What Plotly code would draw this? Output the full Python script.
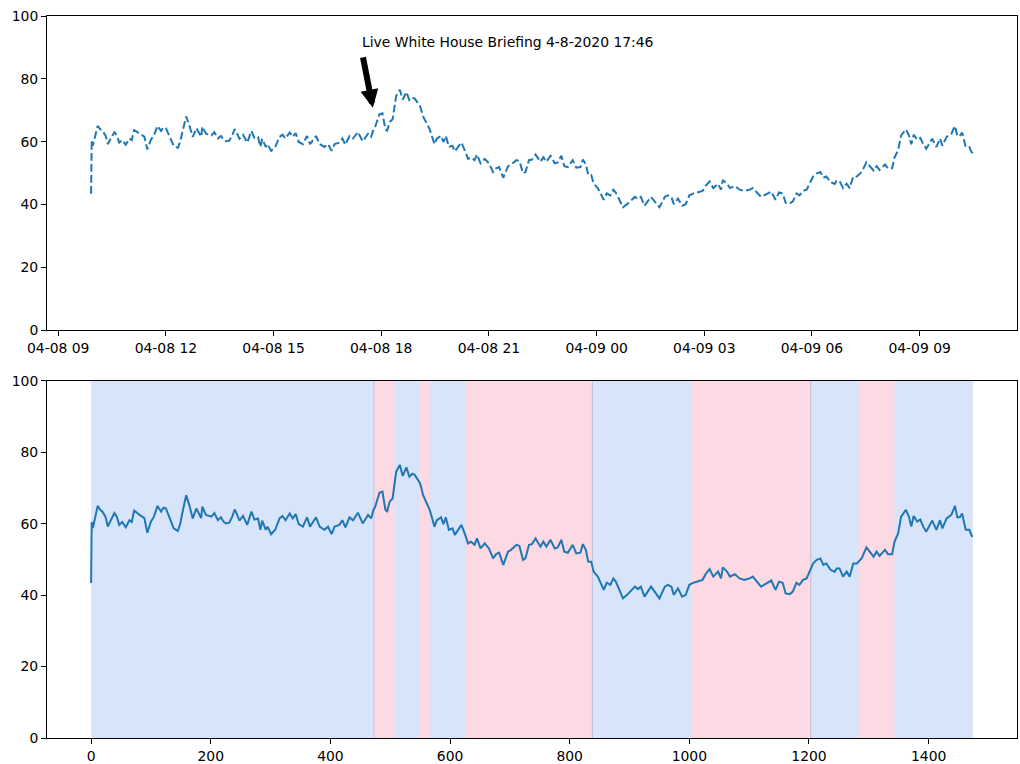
import pandas as pd
import plotly.graph_objects as go

# ---- data (minute index after start, value) ----
start_time = "2020-04-08 09:55"
idx = [0, 1, 3, 5, 8, 11, 15, 19, 24, 28, 33, 39, 43, 47, 52, 58, 64, 68, 72, 77, 81, 89, 94, 100, 105, 111, 117, 121, 125, 130, 138, 145, 149, 153, 159, 164, 170, 176, 184, 186, 192, 201, 206, 212, 217, 222, 226, 231, 236, 240, 242, 248, 254, 261, 268, 273, 279, 283, 286, 292, 295, 301, 308, 315, 320, 325, 332, 337, 342, 347, 354, 361, 366, 371, 376, 382, 390, 396, 402, 407, 415, 420, 425, 432, 438, 446, 454, 463, 468, 472, 475, 482, 487, 492, 495, 499, 504, 510, 516, 521, 527, 532, 537, 541, 546, 550, 555, 560, 566, 571, 574, 578, 585, 589, 593, 598, 604, 608, 613, 619, 626, 630, 635, 641, 645, 651, 658, 665, 672, 677, 682, 689, 697, 702, 711, 716, 722, 726, 732, 737, 743, 751, 756, 761, 768, 775, 780, 786, 791, 797, 805, 811, 818, 822, 827, 831, 836, 840, 847, 853, 857, 862, 868, 873, 877, 882, 889, 896, 903, 909, 914, 919, 925, 931, 936, 944, 950, 959, 964, 970, 974, 981, 988, 994, 1000, 1007, 1014, 1022, 1028, 1034, 1040, 1048, 1053, 1056, 1063, 1068, 1076, 1084, 1092, 1101, 1106, 1113, 1120, 1129, 1137, 1144, 1150, 1156, 1161, 1168, 1173, 1179, 1184, 1190, 1196, 1201, 1207, 1213, 1219, 1224, 1229, 1236, 1243, 1246, 1251, 1257, 1263, 1268, 1274, 1280, 1288, 1296, 1302, 1308, 1313, 1318, 1327, 1332, 1339, 1343, 1349, 1354, 1362, 1367, 1371, 1375, 1381, 1386, 1391, 1396, 1406, 1413, 1419, 1423, 1430, 1438, 1444, 1448, 1452, 1456, 1462, 1468, 1472, 1474]
values = [43.4, 60.5, 58.8, 60.5, 62, 65, 64, 63.4, 62, 59.2, 61, 63, 62, 59.7, 60.5, 59, 61, 60.5, 63.7, 63, 62.5, 61.6, 57.5, 60.6, 62, 65, 63.4, 64.5, 64.3, 62.2, 58.7, 58, 60, 63.4, 68, 65.3, 61.5, 64.3, 61.6, 64.8, 62.5, 62, 63, 61, 61.8, 60.5, 60.1, 60.3, 62, 64, 63.4, 60.9, 62.2, 59.7, 63.4, 61.2, 61.5, 58.3, 60.9, 58.3, 59.2, 57.1, 58.4, 61.5, 62.2, 61, 62.9, 61.5, 62.7, 59.9, 59.2, 61.8, 59.2, 60.5, 61.8, 59.2, 58.3, 59.2, 57.1, 59.2, 59.7, 61, 59, 61.8, 61, 63.1, 60.1, 62.5, 61.5, 63.9, 64.8, 68.7, 69, 63.9, 63.5, 66.2, 67.1, 74.6, 76.5, 73.4, 75.8, 73.2, 74, 73.7, 72.3, 71.3, 68, 66.2, 63.9, 61, 59.2, 61, 61.8, 59.9, 61.8, 58.3, 58.7, 56.9, 58.3, 59.7, 56.6, 54.5, 55, 54.1, 55.9, 53.1, 54.5, 53.1, 50.3, 51.5, 51.9, 48.5, 52.2, 52.7, 54.1, 53.8, 49.9, 50.3, 54.1, 54.3, 55.9, 53.6, 55, 53.6, 55.5, 53.1, 53.4, 55.5, 52.2, 51.9, 54.1, 51.7, 51.9, 54.3, 52.7, 49.4, 49.4, 46.6, 45.2, 42.9, 41.5, 43.5, 42.9, 44.7, 43.8, 41.9, 39.1, 40.1, 41.5, 42.4, 41.7, 42.4, 39.6, 41, 42.4, 40.5, 39.1, 42.4, 42.9, 42.4, 40.1, 41.9, 39.6, 40.1, 42.9, 43.5, 43.8, 44.3, 46.1, 47.3, 45.2, 46.6, 44.7, 47.8, 46.6, 45.2, 45.9, 44.7, 44.3, 44.7, 45.2, 43.8, 42.4, 43.3, 44.1, 41.5, 43.8, 43.5, 40.5, 40.3, 41, 43.5, 42.9, 44.3, 44.7, 46.6, 48.9, 49.9, 50.3, 48.5, 48.9, 47.1, 46.5, 47.5, 47.5, 45.2, 46.6, 45.2, 48.9, 48.9, 50.3, 53.4, 52.2, 50.8, 52.2, 51, 52.7, 51.5, 51.5, 55, 57.3, 62, 63.9, 62, 59.2, 62.2, 60.6, 61.2, 59.2, 57.8, 60.9, 58.3, 61, 58.7, 61.5, 62.5, 65, 61.8, 61.8, 62.9, 58.3, 58.3, 56.6, 56.4]

# regime bands on the index axis
band_edges = [0, 473, 507, 548, 565, 627, 838, 1003, 1203, 1283, 1343, 1474]
band_kinds = ["blue", "pink", "blue", "pink", "blue", "pink", "blue", "pink", "blue", "pink", "blue"]
edge_lines = [473, 838, 1203]

annot_text = "Live White House Briefing 4-8-2020 17:46"
annot_time = "2020-04-08 17:46"
annot_text_time = "2020-04-08 17:30"

y_ticks = [0, 20, 40, 60, 80, 100]

# ---- build ----
times = pd.Timestamp(start_time) + pd.to_timedelta(idx, unit="min")
LINE = "#1f77b4"
FONT = "DejaVu Sans"
FS = 13.9
colors = {"blue": "rgba(100,149,237,0.25)", "pink": "rgba(245,120,155,0.28)"}

fig = go.Figure()
fig.add_trace(go.Scatter(x=times, y=values, mode="lines", xaxis="x", yaxis="y",
                         line=dict(color=LINE, width=2, dash="7.7px,3.3px"),
                         showlegend=False, hoverinfo="skip"))
fig.add_trace(go.Scatter(x=idx, y=values, mode="lines", xaxis="x2", yaxis="y2",
                         line=dict(color=LINE, width=2),
                         showlegend=False, hoverinfo="skip"))

shapes = []
for i, kind in enumerate(band_kinds):
    shapes.append(dict(type="rect", xref="x2", yref="y2 domain",
                       x0=band_edges[i], x1=band_edges[i + 1], y0=0, y1=1,
                       fillcolor=colors[kind], line=dict(width=0), layer="below"))
for e in edge_lines:
    shapes.append(dict(type="line", xref="x2", yref="y2 domain", x0=e, x1=e, y0=0, y1=1,
                       line=dict(color="rgba(160,170,205,0.7)", width=0.8), layer="below"))

span_t = times[-1] - times[0]
t_range = [times[0] - 0.05 * span_t, times[-1] + 0.05 * span_t]
span_i = idx[-1] - idx[0]
i_range = [idx[0] - 0.05 * span_i, idx[-1] + 0.05 * span_i]

axis_common = dict(showline=True, linecolor="black", linewidth=1, mirror=True,
                   ticks="outside", ticklen=5, tickwidth=1, tickcolor="black",
                   showgrid=False, zeroline=False, automargin=False,
                   tickfont=dict(family=FONT, size=FS, color="black"))

fig.update_layout(
    width=1020, height=764,
    margin=dict(l=47, r=3, t=16, b=26),
    paper_bgcolor="white", plot_bgcolor="white",
    font=dict(family=FONT, size=FS, color="black"),
    xaxis=dict(domain=[0, 1], anchor="y", range=t_range, type="date",
               tick0="2020-04-08 09:00", dtick=3 * 3600 * 1000,
               tickformat="%m-%d %H", **axis_common),
    yaxis=dict(domain=[0.565, 1], anchor="x", range=[0, 100], tickvals=y_ticks, **axis_common),
    xaxis2=dict(domain=[0, 1], anchor="y2", range=i_range, dtick=200, tick0=0, **axis_common),
    yaxis2=dict(domain=[0, 0.4945], anchor="x2", range=[0, 100], tickvals=y_ticks, **axis_common),
    shapes=shapes,
    annotations=[
        dict(x=pd.Timestamp(annot_time), y=70.8, xref="x", yref="y",
             ax=pd.Timestamp(annot_text_time) - pd.Timedelta(minutes=1), ay=87.3,
             axref="x", ayref="y", text="", showarrow=True,
             arrowhead=2, arrowsize=0.6, arrowwidth=6, arrowcolor="black"),
        dict(x=pd.Timestamp(annot_text_time), y=90, xref="x", yref="y",
             text=annot_text, showarrow=False, xanchor="left", yanchor="bottom",
             xshift=-3, yshift=-5, font=dict(family=FONT, size=FS, color="black")),
    ],
)

fig.write_html("out.html", config={"displayModeBar": False},
               post_script="document.body.style.margin='0';document.body.style.overflow='hidden';")
